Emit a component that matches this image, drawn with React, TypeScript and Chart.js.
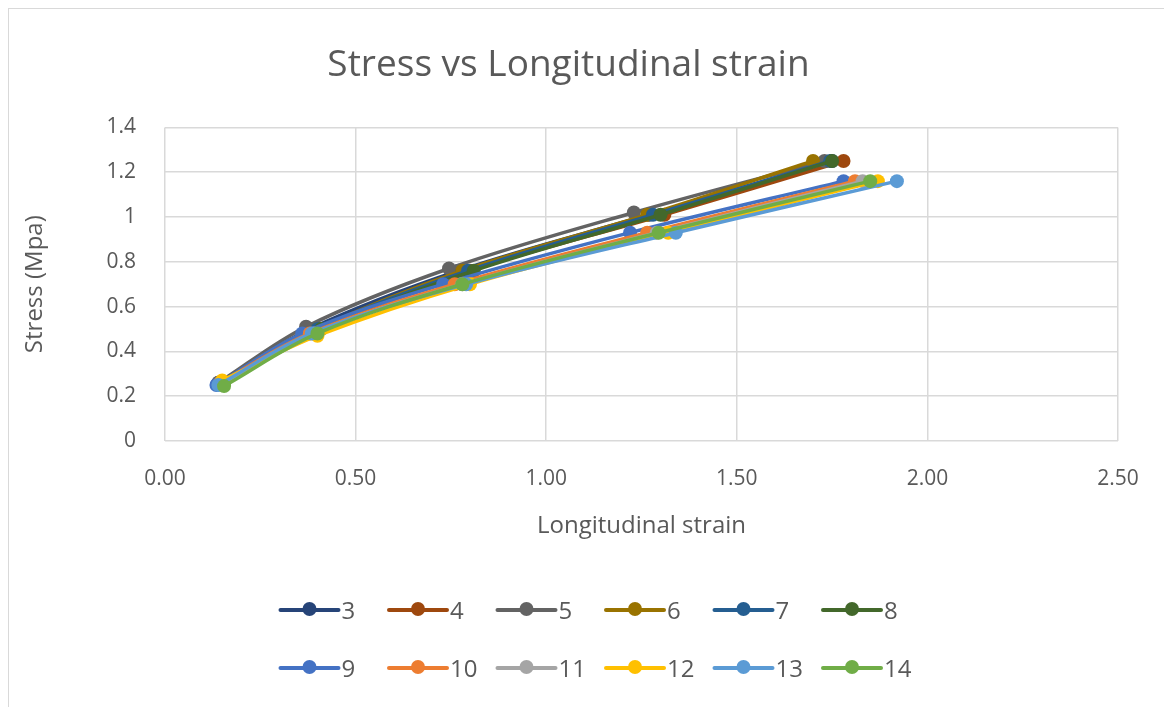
import React, { useEffect, useRef } from "react";
import { Chart, registerables } from "chart.js";

Chart.register(...registerables);

const seriesNames = ["3", "4", "5", "6", "7", "8", "9", "10", "11", "12", "13", "14"];
const seriesColors = [
  "#264478", "#9E480E", "#636363", "#997300", "#255E91", "#43682B",
  "#4472C4", "#ED7D31", "#A5A5A5", "#FFC000", "#5B9BD5", "#70AD47",
];

// Longitudinal strain per series
const strain3 = [0.14, 0.38, 0.77, 1.27, 1.75];
const strain4 = [0.15, 0.40, 0.80, 1.31, 1.78];
const strain5 = [0.14, 0.37, 0.745, 1.23, 1.73];
const strain6 = [0.15, 0.40, 0.78, 1.265, 1.70];
const strain7 = [0.15, 0.40, 0.795, 1.28, 1.745];
const strain8 = [0.155, 0.41, 0.81, 1.30, 1.75];
const strain9 = [0.135, 0.36, 0.73, 1.22, 1.78];
const strain10 = [0.145, 0.38, 0.76, 1.265, 1.81];
const strain11 = [0.15, 0.39, 0.78, 1.29, 1.83];
const strain12 = [0.15, 0.40, 0.80, 1.32, 1.87];
const strain13 = [0.14, 0.385, 0.79, 1.34, 1.92];
const strain14 = [0.155, 0.40, 0.78, 1.295, 1.85];

// Stress (Mpa) per series
const stress3 = [0.26, 0.50, 0.76, 1.01, 1.25];
const stress4 = [0.26, 0.50, 0.76, 1.01, 1.25];
const stress5 = [0.26, 0.51, 0.77, 1.02, 1.25];
const stress6 = [0.26, 0.50, 0.76, 1.01, 1.25];
const stress7 = [0.26, 0.50, 0.76, 1.01, 1.25];
const stress8 = [0.26, 0.50, 0.76, 1.01, 1.25];
const stress9 = [0.25, 0.48, 0.70, 0.93, 1.16];
const stress10 = [0.26, 0.48, 0.70, 0.93, 1.16];
const stress11 = [0.25, 0.48, 0.70, 0.93, 1.16];
const stress12 = [0.27, 0.47, 0.70, 0.93, 1.16];
const stress13 = [0.25, 0.48, 0.70, 0.93, 1.16];
const stress14 = [0.245, 0.48, 0.70, 0.93, 1.16];

const strainSeries = [strain3, strain4, strain5, strain6, strain7, strain8, strain9, strain10, strain11, strain12, strain13, strain14];
const stressSeries = [stress3, stress4, stress5, stress6, stress7, stress8, stress9, stress10, stress11, stress12, stress13, stress14];

const xTicks = [0, 0.5, 1, 1.5, 2, 2.5];
const yTicks = [0, 0.2, 0.4, 0.6, 0.8, 1, 1.2, 1.4];

const FONT = "'Open Sans', 'Noto Sans', sans-serif";
const TEXT = "#595959";
const GRID = "#d9d9d9";

const gridLegend = {
  id: "gridLegend",
  afterDraw(chart: any) {
    const ctx = chart.ctx;
    const ds = chart.data.datasets;
    const colW = 108.5;
    const startX = chart.width / 2 - 310;
    const rowsY = [601, 659];
    ctx.save();
    ds.forEach((d: any, i: number) => {
      const col = i % 6;
      const row = Math.floor(i / 6);
      const x = startX + col * colW;
      const y = rowsY[row];
      ctx.strokeStyle = d.borderColor;
      ctx.lineWidth = 4;
      ctx.lineCap = "round";
      ctx.beginPath();
      ctx.moveTo(x, y);
      ctx.lineTo(x + 58, y);
      ctx.stroke();
      ctx.fillStyle = d.borderColor;
      ctx.beginPath();
      ctx.arc(x + 29, y - 1, 7, 0, Math.PI * 2);
      ctx.fill();
      ctx.fillStyle = TEXT;
      ctx.font = `24px ${FONT}`;
      ctx.textBaseline = "middle";
      ctx.textAlign = "left";
      ctx.fillText(d.label, x + 61, y + 2);
    });
    ctx.restore();
  },
};

export default function App() {
  const canvasRef = useRef<HTMLCanvasElement | null>(null);

  useEffect(() => {
    if (!canvasRef.current) return;
    const datasets = seriesNames.map((name, i) => ({
      label: name,
      data: strainSeries[i].map((x, j) => ({ x, y: stressSeries[i][j] })),
      borderColor: seriesColors[i],
      backgroundColor: seriesColors[i],
      pointBackgroundColor: seriesColors[i],
      pointBorderColor: seriesColors[i],
      pointRadius: 7,
      pointBorderWidth: 0,
      borderWidth: 3.5,
      tension: 0.35,
      showLine: true,
      fill: false,
      order: seriesNames.length - i,
    }));

    const chart = new Chart(canvasRef.current, {
      type: "scatter",
      data: { datasets },
      options: {
        animation: false,
        responsive: true,
        maintainAspectRatio: false,
        layout: { padding: { top: 10, left: 10, right: 54, bottom: 146 } },
        plugins: {
          legend: { display: false },
          tooltip: { enabled: false },
          title: {
            display: true,
            text: "Stress vs Longitudinal strain",
            color: TEXT,
            font: { family: FONT, size: 37, weight: "normal" },
            padding: { top: 24, bottom: 40 },
          },
        },
        scales: {
          x: {
            type: "linear",
            min: 0,
            max: 2.5,
            afterBuildTicks: (s: any) => {
              s.ticks = xTicks.map((v) => ({ value: v }));
            },
            afterFit: (s: any) => {
              s.height = 120;
            },
            ticks: {
              color: TEXT,
              font: { family: FONT, size: 21 },
              padding: 25,
              callback: (v: any) => Number(v).toFixed(2),
            },
            grid: { color: GRID, lineWidth: 1.5, drawTicks: false },
            border: { display: false },
            title: {
              display: true,
              text: "Longitudinal strain",
              color: TEXT,
              font: { family: FONT, size: 24 },
              padding: { top: 0, bottom: 20 },
            },
          },
          y: {
            type: "linear",
            min: 0,
            max: 1.4,
            afterBuildTicks: (s: any) => {
              s.ticks = yTicks.map((v) => ({ value: v }));
            },
            afterFit: (s: any) => {
              s.width = 146;
            },
            ticks: {
              color: TEXT,
              font: { family: FONT, size: 21 },
              padding: 29,
              callback: (v: any) => String(Number(Number(v).toFixed(1))),
            },
            grid: { color: GRID, lineWidth: 1.5, drawTicks: false },
            border: { display: false },
            title: {
              display: true,
              text: "Stress (Mpa)",
              color: TEXT,
              font: { family: FONT, size: 24 },
              padding: { top: 2, bottom: 0 },
            },
          },
        },
      },
      plugins: [gridLegend],
    });
    return () => chart.destroy();
  }, []);

  return (
    <div
      style={{
        position: "relative",
        width: 1164,
        height: 699,
        boxSizing: "border-box",
        borderLeft: "1px solid #d9d9d9",
        borderTop: "1px solid #d9d9d9",
        background: "#fff",
      }}
    >
      <div style={{ position: "absolute", left: 0, top: 0, width: 1163, height: 698 }}>
        <canvas ref={canvasRef} />
      </div>
    </div>
  );
}
